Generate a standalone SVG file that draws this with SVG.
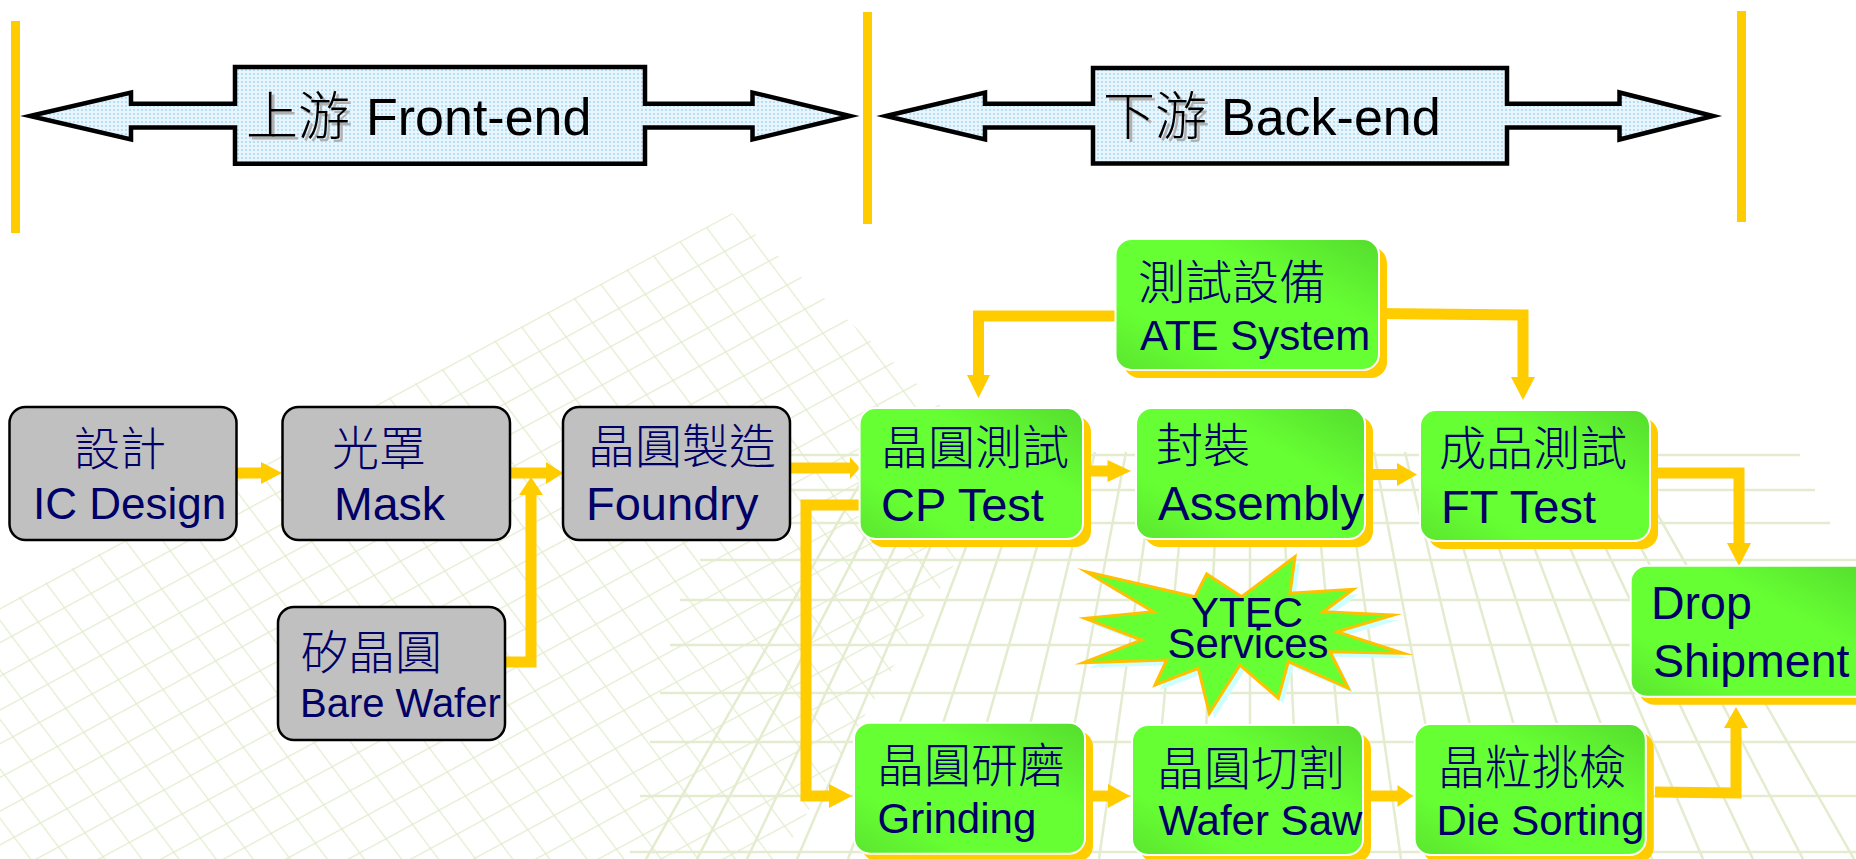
<svg xmlns="http://www.w3.org/2000/svg" width="1856" height="859" viewBox="0 0 1856 859">
<defs>
<style>
.lat{font-family:"Liberation Sans",Arial,sans-serif;fill:#000066}
.cjk{font-family:"Noto Sans CJK TC","Noto Sans CJK SC",sans-serif;font-weight:300;fill:#000066}
.blk{fill:#000}
.sh{fill:#b0b0b0}
.gray{fill:#c0c0c0;stroke:#000;stroke-width:2.5}
.green{fill:url(#gg);stroke:#fff;stroke-width:2}
.gshadow{fill:#ffcc00}
.bar{fill:#ffcc00}
.big{fill:url(#dots);stroke:#000;stroke-width:4.5;stroke-linejoin:miter;stroke-miterlimit:12}
.ln{fill:none;stroke:#ffcc00;stroke-width:11;stroke-linejoin:miter}
.hd{fill:#ffcc00}
.bg{fill:none;stroke:#e3ecce;stroke-width:2.5}
</style>
<linearGradient id="gg" x1="1" y1="0" x2="0" y2="1">
<stop offset="0" stop-color="#55dd2e"/>
<stop offset="0.35" stop-color="#66ff33"/>
<stop offset="0.75" stop-color="#66ff33"/>
<stop offset="1" stop-color="#5be52f"/>
</linearGradient>
<pattern id="dots" width="4" height="4" patternUnits="userSpaceOnUse">
<rect width="4" height="4" fill="#e8f5fc"/>
<circle cx="2" cy="2" r="0.9" fill="#9fd5f0"/>
</pattern>
<pattern id="lat" width="30" height="30" patternUnits="userSpaceOnUse" patternTransform="matrix(0.88 -0.475 0.6 0.8 732 213)">
<path d="M0 0H30M0 0V30" stroke="#e3ecce" stroke-width="2.5" fill="none"/>
</pattern>
<clipPath id="pyr"><polygon points="732,213 1010,470 780,859 0,859 0,607"/></clipPath>
</defs>
<rect width="1856" height="859" fill="#fff"/>
<g id="background">
<rect width="1856" height="859" fill="url(#lat)" clip-path="url(#pyr)"/>
<path class="bg" d="M760 455H1800M740 490H1815M720 523H1830M700 560H1856M680 600H1856M670 645H1856M660 693H1856M650 742H1856M640 796H1856M630 852H1856"/>
<path class="bg" d="M878 452L646 859M909 452L697 859M940 452L747 859M971 452L797 859M1002 452L848 859M1033 452L898 859M1064 452L948 859M1095 452L998 859M1126 452L1049 859M1157 452L1099 859M1188 452L1149 859M1219 452L1200 859M1250 452L1250 859M1281 452L1300 859M1312 452L1351 859M1343 452L1401 859M1374 452L1451 859M1405 452L1502 859M1436 452L1552 859M1467 452L1602 859M1498 452L1652 859M1529 452L1703 859M1560 452L1753 859M1591 452L1803 859M1622 452L1854 859"/>
</g>
<g id="dividers">
<rect class="bar" x="11" y="21" width="9" height="212"/>
<rect class="bar" x="863" y="12" width="9" height="212"/>
<rect class="bar" x="1737" y="11" width="9" height="211"/>
</g>
<g id="front-end">
<polygon class="big" points="30,116 131,92.5 131,103.7 235,103.7 235,67 645,67 645,103.7 752.5,103.7 752.5,92.5 850,116 752.5,139.5 752.5,127.5 645,127.5 645,163.7 235,163.7 235,127.5 131,127.5 131,139.5"/>
<text class="cjk sh" x="249" y="138" font-size="52">上游</text>
<text class="cjk blk" x="246" y="135" font-size="52">上游</text>
<text class="lat blk" x="366" y="135" font-size="52">Front-end</text>
</g>
<g id="back-end">
<polygon class="big" points="886,116 985,92.5 985,103.7 1093,103.7 1093,68 1507,68 1507,103.7 1619.5,103.7 1619.5,92.5 1713,116 1619.5,139.5 1619.5,127.5 1507,127.5 1507,163.5 1093,163.5 1093,127.5 985,127.5 985,139.5"/>
<text class="cjk sh" x="1106" y="138" font-size="52">下游</text>
<text class="cjk blk" x="1103" y="135" font-size="52">下游</text>
<text class="lat blk" x="1221" y="135" font-size="52">Back-end</text>
</g>
<g id="connectors">
<path class="ln" d="M236 473H262"/><polygon class="hd" points="261,462 282,473 261,484"/>
<path class="ln" d="M510 473H547"/><polygon class="hd" points="546,462 563,473 546,484"/>
<path class="ln" d="M505 662H531V494"/><polygon class="hd" points="519,495 531,477 543,495"/>
<path class="ln" d="M790 468H852"/><polygon class="hd" points="850,457 860,468 850,479"/>
<path class="ln" d="M860 505H806V796H830"/><polygon class="hd" points="829,784 852,796 829,808"/>
<path class="ln" d="M1120 316H978.5V376"/><polygon class="hd" points="967,375 978.5,398 990,375"/>
<path class="ln" d="M1375 313.5L1523 315V378"/><polygon class="hd" points="1511,377 1523,400 1535,377"/>
<path class="ln" d="M1090 471H1109"/><polygon class="hd" points="1107.5,460 1131,471 1107.5,482"/>
<path class="ln" d="M1370 474.5H1398"/><polygon class="hd" points="1397,463 1417,474.5 1397,486"/>
<path class="ln" d="M1655 473H1739V544"/><polygon class="hd" points="1727,543 1739,566 1751,543"/>
<path class="ln" d="M1093 796H1109"/><polygon class="hd" points="1108,784 1130,796 1108,808"/>
<path class="ln" d="M1370 796H1398"/><polygon class="hd" points="1397.5,785 1413,796 1397.5,807"/>
<path class="ln" d="M1655 792L1736 793V727"/><polygon class="hd" points="1724,728 1736,707 1748,728"/>
</g>
<g id="ic-design">
<rect class="gray" x="9.5" y="407" width="227" height="133" rx="16"/>
<text class="cjk" x="74" y="465" font-size="46">設計</text>
<text class="lat" x="33" y="519" font-size="44">IC Design</text>
</g>
<g id="mask">
<rect class="gray" x="282.5" y="407" width="227.5" height="133" rx="16"/>
<text class="cjk" x="332" y="465" font-size="47">光罩</text>
<text class="lat" x="334" y="520" font-size="46.5">Mask</text>
</g>
<g id="foundry">
<rect class="gray" x="563" y="407" width="227" height="133" rx="16"/>
<text class="cjk" x="588" y="463" font-size="47">晶圓製造</text>
<text class="lat" x="586" y="520" font-size="47">Foundry</text>
</g>
<g id="bare-wafer">
<rect class="gray" x="278" y="607" width="227" height="133" rx="16"/>
<text class="cjk" x="301" y="668.5" font-size="47">矽晶圓</text>
<text class="lat" x="300" y="716.7" font-size="40">Bare Wafer</text>
</g>
<g id="ate-system">
<rect class="gshadow" x="1123.5" y="247" width="263.5" height="131" rx="16"/>
<rect class="green" x="1115.5" y="239" width="263.5" height="131" rx="16"/>
<text class="cjk" x="1138" y="298.5" font-size="47">測試設備</text>
<text class="lat" x="1140" y="350" font-size="42">ATE System</text>
</g>
<g id="cp-test">
<rect class="gshadow" x="867.6" y="416" width="223.4" height="131" rx="16"/>
<rect class="green" x="859.6" y="408" width="223.4" height="131" rx="16"/>
<text class="cjk" x="881" y="463.5" font-size="47">晶圓測試</text>
<text class="lat" x="881" y="520.7" font-size="47">CP Test</text>
</g>
<g id="assembly">
<rect class="gshadow" x="1144" y="416" width="229" height="131" rx="16"/>
<rect class="green" x="1136" y="408" width="229" height="131" rx="16"/>
<text class="cjk" x="1156" y="462" font-size="47">封裝</text>
<text class="lat" x="1158" y="520" font-size="47.5">Assembly</text>
</g>
<g id="ft-test">
<rect class="gshadow" x="1428" y="418" width="230" height="131" rx="16"/>
<rect class="green" x="1420" y="410" width="230" height="131" rx="16"/>
<text class="cjk" x="1439" y="465" font-size="47">成品測試</text>
<text class="lat" x="1441" y="522.7" font-size="47">FT Test</text>
</g>
<g id="grinding">
<rect class="gshadow" x="862" y="730.7" width="231" height="131" rx="16"/>
<rect class="green" x="854" y="722.7" width="231" height="131" rx="16"/>
<text class="cjk" x="877" y="782" font-size="47">晶圓研磨</text>
<text class="lat" x="877.5" y="833" font-size="42">Grinding</text>
</g>
<g id="wafer-saw">
<rect class="gshadow" x="1140" y="733" width="231" height="130" rx="16"/>
<rect class="green" x="1132" y="725" width="231" height="130" rx="16"/>
<text class="cjk" x="1157" y="785" font-size="47">晶圓切割</text>
<text class="lat" x="1158.5" y="835" font-size="42">Wafer Saw</text>
</g>
<g id="die-sorting">
<rect class="gshadow" x="1422.6" y="732" width="231.2" height="131" rx="16"/>
<rect class="green" x="1414.6" y="724" width="231.2" height="131" rx="16"/>
<text class="cjk" x="1438" y="783.5" font-size="47">晶粒挑檢</text>
<text class="lat" x="1436.5" y="835" font-size="42">Die Sorting</text>
</g>
<g id="drop-shipment">
<rect class="gshadow" x="1638.7" y="573.7" width="240" height="131" rx="16"/>
<rect class="green" x="1630.7" y="565.7" width="240" height="131" rx="16"/>
<text class="lat" x="1651" y="619" font-size="46.5">Drop</text>
<text class="lat" x="1653" y="677" font-size="46.5">Shipment</text>
</g>
<g id="ytec-services">
<polygon fill="#ccffff" transform="translate(5,5)" points="1086,571.7 1195,596.7 1206.7,574 1241.7,596.7 1295,556.7 1290,593.3 1353.3,589.3 1323.3,611.7 1393.3,615 1336.7,631.7 1403.3,653.3 1330,651.7 1348.3,688.3 1288.3,661.7 1278.3,698.3 1240,665 1209.3,713.3 1198.3,668.3 1155,685 1166.7,660 1083.3,662.7 1141.7,640 1085,618.3 1153.3,611.7"/>
<polygon fill="#66ff33" stroke="#ffc000" stroke-width="3" stroke-linejoin="miter" stroke-miterlimit="12" points="1086,571.7 1195,596.7 1206.7,574 1241.7,596.7 1295,556.7 1290,593.3 1353.3,589.3 1323.3,611.7 1393.3,615 1336.7,631.7 1403.3,653.3 1330,651.7 1348.3,688.3 1288.3,661.7 1278.3,698.3 1240,665 1209.3,713.3 1198.3,668.3 1155,685 1166.7,660 1083.3,662.7 1141.7,640 1085,618.3 1153.3,611.7"/>
<text class="lat" x="1247" y="627.3" font-size="42" text-anchor="middle">YTEC</text>
<text class="lat" x="1248" y="658.3" font-size="42" text-anchor="middle">Services</text>
</g>
</svg>
